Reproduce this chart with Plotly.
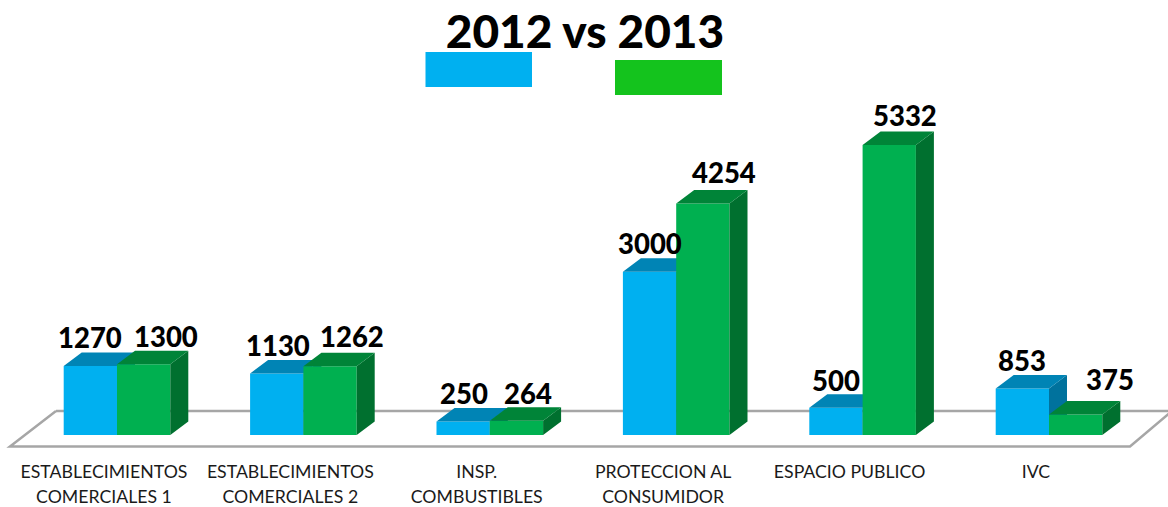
import plotly.graph_objects as go

categories = ["ESTABLECIMIENTOS<br>COMERCIALES 1", "ESTABLECIMIENTOS<br>COMERCIALES 2",
              "INSP.<br>COMBUSTIBLES", "PROTECCION AL<br>CONSUMIDOR", "ESPACIO PUBLICO", "IVC"]
values_2012 = [1270, 1130, 250, 3000, 500, 853]
values_2013 = [1300, 1262, 264, 4254, 5332, 375]

W, H = 1168, 507
BASE = 435          # pixel row of the axis baseline
GROUP = 186.4       # pixels per category
X0 = 117            # pixel column of category 0
PXV = 0.0544        # pixels per unit
BAR = 53.3 / GROUP
DX = 18 / GROUP
DY = 13.5 / PXV

BLUE, BLUE_TOP, BLUE_SIDE = "#00B0F0", "#0084B5", "#00729D"
GREEN, GREEN_TOP, GREEN_SIDE = "#00B050", "#008438", "#00702F"

xs = list(range(len(categories)))
xrange_ = [-X0 / GROUP, (W - X0) / GROUP]
yrange_ = [0, BASE / PXV]


def top_faces(x_left, vals):
    px, py = [], []
    for i, v in zip(xs, vals):
        a = i + x_left
        b = a + BAR
        px += [a, b, b + DX, a + DX, a, None]
        py += [v, v, v + DY, v + DY, v, None]
    return px, py


def side_faces(x_left, vals):
    px, py = [], []
    for i, v in zip(xs, vals):
        b = i + x_left + BAR
        px += [b, b + DX, b + DX, b, b, None]
        py += [0, DY, v + DY, v, 0, None]
    return px, py


def face(points, color, xa, ya):
    return go.Scatter(x=points[0], y=points[1], mode="lines", fill="toself", fillcolor=color,
                      line=dict(width=0, color=color), hoverinfo="skip", showlegend=False,
                      xaxis=xa, yaxis=ya)


fig = go.Figure()
fig.add_trace(go.Bar(x=xs, y=values_2012, offset=-BAR, width=BAR, marker=dict(color=BLUE, line_width=0),
                     name="2012", showlegend=False, xaxis="x", yaxis="y"))
fig.add_trace(face(side_faces(-BAR, values_2012), BLUE_SIDE, "x", "y"))
fig.add_trace(face(top_faces(-BAR, values_2012), BLUE_TOP, "x", "y"))
fig.add_trace(go.Bar(x=xs, y=values_2013, offset=0, width=BAR, marker=dict(color=GREEN, line_width=0),
                     name="2013", showlegend=False, xaxis="x2", yaxis="y2"))
fig.add_trace(face(side_faces(0, values_2013), GREEN_SIDE, "x2", "y2"))
fig.add_trace(face(top_faces(0, values_2013), GREEN_TOP, "x2", "y2"))


def py(p):
    return (BASE - p) / BASE


def px(p):
    return p / W


shapes = [
    dict(type="path", xref="paper", yref="paper", layer="below",
         path=f"M {px(56)} {py(411)} L {px(10)} {py(446.5)} L {px(1130)} {py(446.5)} L {px(1172)} {py(411)}",
         line=dict(color="#A6A6A6", width=2.5)),
    dict(type="line", xref="paper", yref="paper", layer="below", x0=px(56), x1=1, y0=py(411), y1=py(411),
         line=dict(color="#A6A6A6", width=2.5)),
    dict(type="rect", xref="paper", yref="paper", x0=px(425.5), x1=px(532), y0=py(52), y1=py(87),
         fillcolor="#00B0F0", line_width=0),
    dict(type="rect", xref="paper", yref="paper", x0=px(615), x1=px(722), y0=py(60), y1=py(95),
         fillcolor="#14C31D", line_width=0),
]

shift_2012 = [(0, 28), (1, 28), (1, 28), (0, 28), (0, 27), (0, 28)]
shift_2013 = [(22, 28), (22, 30), (12, 27), (21, 31), (16, 29), (34, 35)]
annotations = []
for i in xs:
    for vals, off, shifts in ((values_2012, -BAR / 2, shift_2012), (values_2013, BAR / 2, shift_2013)):
        annotations.append(dict(
            x=i + off, y=vals[i], xref="x", yref="y", text=str(vals[i]), showarrow=False,
            xanchor="center", yanchor="middle", xshift=shifts[i][0], yshift=shifts[i][1],
            font=dict(family="Lato", size=27.5, color="#000000", weight=900)))

fig.update_layout(
    width=W, height=H, autosize=False,
    margin=dict(l=0, r=0, t=0, b=H - BASE, pad=0),
    paper_bgcolor="white", plot_bgcolor="rgba(0,0,0,0)",
    barmode="overlay",
    title=dict(text="2012 vs 2013", x=585 / W, y=1 - 32 / H, xref="container", yref="container",
               xanchor="center", yanchor="middle", automargin=False,
               font=dict(family="Lato", size=46, color="#000000", weight=900)),
    xaxis=dict(range=xrange_, showgrid=False, zeroline=False, showline=False, ticks="", automargin=False,
               tickmode="array", tickvals=[i - 0.07 for i in xs],
               ticktext=[f'<span style="font-size:17.7px">{c}</span>' for c in categories],
               ticklabelstandoff=23, tickangle=0,
               tickfont=dict(family="Lato", size=19, color="#1a1a1a")),
    yaxis=dict(range=yrange_, visible=False, automargin=False),
    xaxis2=dict(range=xrange_, overlaying="x", visible=False, automargin=False),
    yaxis2=dict(range=yrange_, overlaying="y", visible=False, automargin=False),
    shapes=shapes, annotations=annotations,
)

fig.write_html("out.html", config=dict(displayModeBar=False),
               post_script="document.body.style.margin='0';document.documentElement.style.overflow='hidden';")
